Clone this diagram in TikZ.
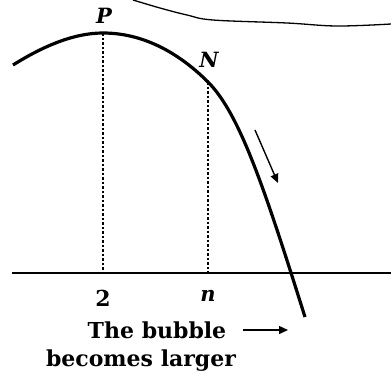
\documentclass[tikz,border=0pt]{standalone}
\usepackage{fontspec}
\setmainfont{DejaVu Serif}
\usetikzlibrary{arrows.meta}
\begin{document}
\begin{tikzpicture}[x=1pt,y=-1pt,
  lbl/.style={font=\bfseries\fontsize{22}{26}\selectfont, inner sep=0pt},
  ital/.style={font=\bfseries\itshape\fontsize{21}{24}\selectfont, inner sep=0pt},
  thick curve/.style={line width=3.2pt},
  dots/.style={line width=1.1pt, dash pattern=on 2.5pt off 2pt},
  arr/.style={line width=1.4pt, -{Triangle[length=9pt,width=8pt]}}]
\useasboundingbox (0,0) rectangle (391,376);
% top thin curve
\draw[line width=1.3pt] plot[smooth, tension=0.6] coordinates {(133,0) (160,8) (187,15) (213,20) (287,23) (337,26) (391,24)};
% axis
\coordinate (ax1) at (12,273);
\coordinate (ax2) at (391,273);
\draw[line width=1.3pt] (ax1) -- (ax2);
% points
\coordinate (S) at (13,65);
\coordinate (P) at (103,33);
\coordinate (N) at (208,82);
\coordinate (E) at (305,317);
% main curve
\draw[thick curve] (S) .. controls (45,45) and (75,33) .. (P)
  .. controls (150,33) and (186,60) .. (N)
  .. controls (240,114) and (265,190) .. (E);
% dashed lines
\coordinate (Pb) at (103,273);
\coordinate (Nb) at (208,273);
\draw[dots] (P) -- (Pb);
\draw[dots] (N) -- (Nb);
% labels
\node[ital] (lP) at (104,16) {P};
\node[ital] (lN) at (209,60) {N};
\node[lbl] (l2) at (103,298) {2};
\node[ital] (ln) at (208,296) {n};
\node[lbl, anchor=base] (t1) at (157,338) {The bubble};
\node[lbl, anchor=base] (t2) at (141,366) {becomes larger};
% arrows
\coordinate (a1) at (255,130);
\coordinate (a2) at (278,183);
\draw[arr] (a1) -- (a2);
\coordinate (b1) at (243,330);
\coordinate (b2) at (288,330);
\draw[arr] (b1) -- (b2);
\end{tikzpicture}
\end{document}
